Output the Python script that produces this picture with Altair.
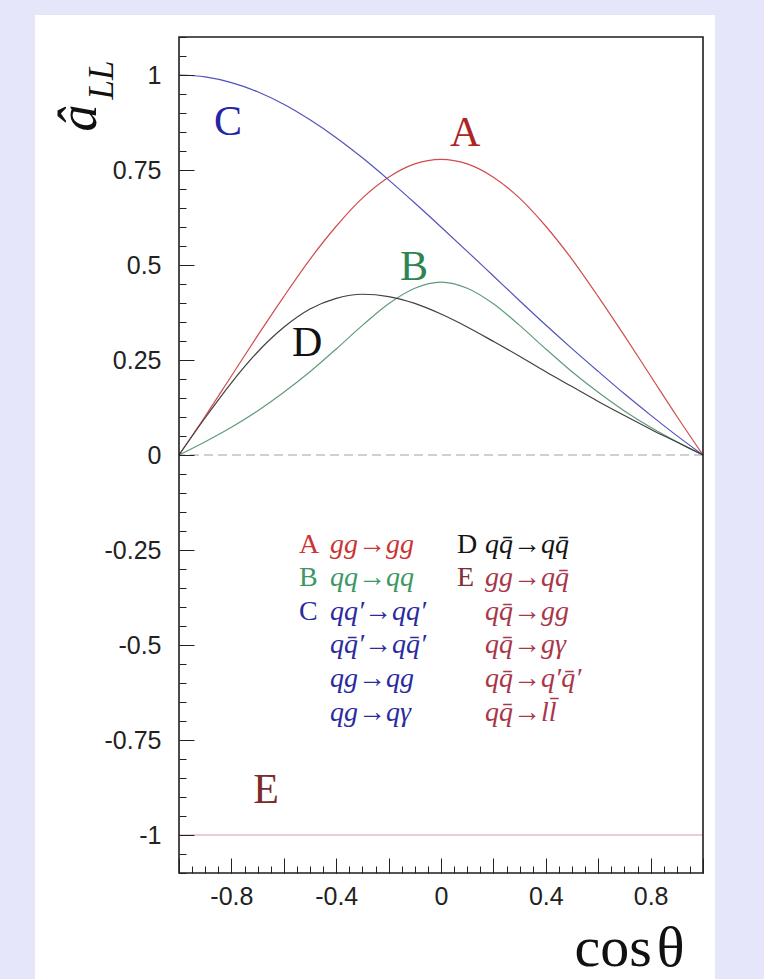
import altair as alt
import pandas as pd

# cos(theta) grid shared by every curve
cos_theta = [-1.0, -0.9, -0.8, -0.7, -0.6, -0.5, -0.4, -0.3, -0.2, -0.1, 0.0,
             0.1, 0.2, 0.3, 0.4, 0.5, 0.6, 0.7, 0.8, 0.9, 1.0]

# partonic double-helicity asymmetry a_LL for each class of subprocess
a_LL_A = [0.000, 0.102, 0.208, 0.314, 0.417, 0.515, 0.602, 0.676, 0.731, 0.766, 0.778,
          0.766, 0.731, 0.676, 0.602, 0.515, 0.417, 0.314, 0.208, 0.102, 0.000]
a_LL_B = [0.000, 0.035, 0.073, 0.116, 0.165, 0.219, 0.279, 0.341, 0.398, 0.439, 0.455,
          0.439, 0.398, 0.341, 0.279, 0.219, 0.165, 0.116, 0.073, 0.035, 0.000]
a_LL_C = [1.000, 0.995, 0.980, 0.956, 0.923, 0.882, 0.835, 0.782, 0.724, 0.663, 0.600,
          0.536, 0.471, 0.406, 0.342, 0.280, 0.220, 0.161, 0.105, 0.051, 0.000]
a_LL_D = [0.000, 0.098, 0.190, 0.271, 0.336, 0.384, 0.412, 0.423, 0.417, 0.399, 0.371,
          0.337, 0.299, 0.260, 0.219, 0.180, 0.141, 0.104, 0.068, 0.034, 0.000]
a_LL_E = [-1.0, -1.0, -1.0, -1.0, -1.0, -1.0, -1.0, -1.0, -1.0, -1.0, -1.0,
          -1.0, -1.0, -1.0, -1.0, -1.0, -1.0, -1.0, -1.0, -1.0, -1.0]

curve_names = ["A", "B", "C", "D"]
curve_colors = ["#d24c4c", "#5f9c7a", "#5252bc", "#404040"]
e_line_color = "#dc9aab"

# subprocess lists
QB = "q\u0304"
left_processes = ["gg→gg", "qq→qq", "qq′→qq′", "q" + QB + "′→q" + QB + "′", "qg→qg", "qg→qγ"]
right_processes = ["q" + QB + "→q" + QB, "gg→q" + QB, "q" + QB + "→gg", "q" + QB + "→gγ",
                   "q" + QB + "→q′" + QB + "′", "q" + QB + "→l" + "l\u0304"]
left_process_colors = ["#cc3434", "#3b9864", "#2b2b9e", "#2b2b9e", "#2b2b9e", "#2b2b9e"]
right_process_colors = ["#141414", "#a8374a", "#a8374a", "#a8374a", "#a8374a", "#a8374a"]
legend_letters = ["A", "B", "C", "D", "E"]
legend_letter_colors = ["#cc3434", "#3b9864", "#2b2b9e", "#141414", "#7e2f2f"]

# curve tags drawn next to the curves
tag_letters = ["C", "A", "B", "D", "E"]
tag_colors = ["#2424a4", "#ac2626", "#2e8552", "#111111", "#7a2c2c"]

# ---- layout (data coordinates of the annotations) ----
tag_x = [-0.813, 0.092, -0.103, -0.511, -0.668]
tag_y = [0.876, 0.847, 0.495, 0.295, -0.882]
row_y = [-0.258, -0.346, -0.434, -0.522, -0.611, -0.699]
letter_x_left, process_x_left = -0.542, -0.424
letter_x_right, process_x_right = 0.061, 0.168

# ---- axis ticks ----
x_major = [-1.0, -0.8, -0.6, -0.4, -0.2, 0.0, 0.2, 0.4, 0.6, 0.8, 1.0]
x_labelled = [-0.8, -0.4, 0.0, 0.4, 0.8]
x_minor = [round(-1.0 + 0.05 * i, 2) for i in range(41)]
y_major = [-1.0, -0.75, -0.5, -0.25, 0.0, 0.25, 0.5, 0.75, 1.0]
y_minor = [round(-1.1 + 0.05 * i, 2) for i in range(45)]

W, H = 524, 836
MAJOR, MINOR = 15, 7

x_scale = alt.Scale(domain=[-1, 1], nice=False, zero=False)
y_scale = alt.Scale(domain=[-1.1, 1.1], nice=False, zero=False)

common_axis = dict(domain=False, grid=False, zindex=1, tickColor="#222222", tickWidth=1)
label_style = dict(labelFont="Liberation Sans", labelFontSize=25, labelColor="#222222",
                   labelOverlap=False, labelFlush=False)

x_axis_major = alt.Axis(
    orient="bottom", values=x_major, tickSize=MAJOR, offset=-MAJOR, labelPadding=11,
    labelExpr=f"indexof({x_labelled}, datum.value) >= 0 ? toString(datum.value) : ''",
    title="cos\u200aθ", titleFont="Liberation Serif", titleFontSize=58,
    titleFontWeight="normal", titleColor="#111111", titleX=505, titleY=107,
    titleAlign="right", titleBaseline="alphabetic", titleAngle=0,
    **label_style, **common_axis)
y_axis_major = alt.Axis(
    orient="left", values=y_major, tickSize=MAJOR, offset=-MAJOR, labelPadding=18,
    labelExpr="toString(datum.value)",
    title="â", titleFont="Liberation Serif", titleFontStyle="italic", titleFontSize=54,
    titleFontWeight="normal", titleColor="#111111", titleX=-99, titleY=94,
    titleAngle=270, titleAlign="left", titleBaseline="alphabetic",
    **label_style, **common_axis)
x_axis_minor = alt.Axis(orient="bottom", values=x_minor, tickSize=MINOR, offset=-MINOR,
                        labels=False, title=None, **common_axis)
y_axis_minor = alt.Axis(
    orient="left", values=y_minor, tickSize=MINOR, offset=-MINOR, labels=False,
    title="LL", titleFont="Liberation Serif", titleFontStyle="italic", titleFontSize=35,
    titleFontWeight="normal", titleColor="#111111", titleX=-74, titleY=62,
    titleAngle=270, titleAlign="left", titleBaseline="alphabetic",
    **common_axis)

one_row = alt.Data(values=[{}])

# white page panel behind the plot
panel = alt.Chart(one_row).mark_rect(color="white").encode(
    x=alt.value(-144), x2=alt.value(536), y=alt.value(-22), y2=alt.value(H + 106))

# dashed zero line
zero = alt.Chart(pd.DataFrame({"level": [0.0]})).mark_rule(
    color="#a2a2a2", strokeDash=[9, 5], strokeWidth=1.2
).encode(y=alt.Y("level:Q", scale=y_scale, axis=None))

# curve E (constant -1), carries the minor ticks
e_df = pd.DataFrame({"cos": cos_theta, "aLL": a_LL_E})
e_line = alt.Chart(e_df).mark_line(color=e_line_color, strokeWidth=1.2).encode(
    x=alt.X("cos:Q", scale=x_scale, axis=x_axis_minor),
    y=alt.Y("aLL:Q", scale=y_scale, axis=y_axis_minor),
)

# curves A-D, carry the main axes
rows = []
for name, vals in zip(curve_names, [a_LL_A, a_LL_B, a_LL_C, a_LL_D]):
    for c, v in zip(cos_theta, vals):
        rows.append({"cos": c, "aLL": v, "process": name})
curves_df = pd.DataFrame(rows)
curves = alt.Chart(curves_df).mark_line(interpolate="monotone", strokeWidth=1.2).encode(
    x=alt.X("cos:Q", scale=x_scale, axis=x_axis_major),
    y=alt.Y("aLL:Q", scale=y_scale, axis=y_axis_major),
    color=alt.Color("process:N", scale=alt.Scale(domain=curve_names, range=curve_colors),
                    legend=None),
)


def label(text, x, y, color, size, italic=False, align="left", baseline="alphabetic"):
    props = dict(font="Liberation Serif", fontSize=size, color=color, align=align,
                 baseline=baseline)
    if italic:
        props["fontStyle"] = "italic"
    df = pd.DataFrame({"t": [text], "x": [x], "y": [y]})
    return alt.Chart(df).mark_text(**props).encode(
        x=alt.X("x:Q", scale=x_scale, axis=None),
        y=alt.Y("y:Q", scale=y_scale, axis=None),
        text="t:N",
    )


texts = []
for t, x, y, col in zip(tag_letters, tag_x, tag_y, tag_colors):
    texts.append(label(t, x, y, col, 42, align="center", baseline="middle"))
for i, (p, col) in enumerate(zip(left_processes, left_process_colors)):
    texts.append(label(p, process_x_left, row_y[i], col, 28, italic=True))
for i, (p, col) in enumerate(zip(right_processes, right_process_colors)):
    texts.append(label(p, process_x_right, row_y[i], col, 28, italic=True))
for i, (t, col) in enumerate(zip(legend_letters, legend_letter_colors)):
    if i < 3:
        texts.append(label(t, letter_x_left, row_y[i], col, 28))
    else:
        texts.append(label(t, letter_x_right, row_y[i - 3], col, 28))

# plot frame
frame = alt.Chart(one_row).mark_rect(filled=False, color="#1e1e1e", strokeWidth=1.6).encode(
    x=alt.value(0), x2=alt.value(W), y=alt.value(0), y2=alt.value(H))

chart = alt.layer(panel, zero, e_line, curves, *texts, frame).resolve_axis(
    x="independent", y="independent"
).properties(
    width=W, height=H,
    autosize=alt.AutoSizeParams(type="none"),
    padding={"left": 179, "top": 37, "right": 61, "bottom": 106},
    background="#e6e6fa",
).configure_view(strokeWidth=0)

chart.save("out.html", embed_options={"renderer": "svg", "actions": False})
